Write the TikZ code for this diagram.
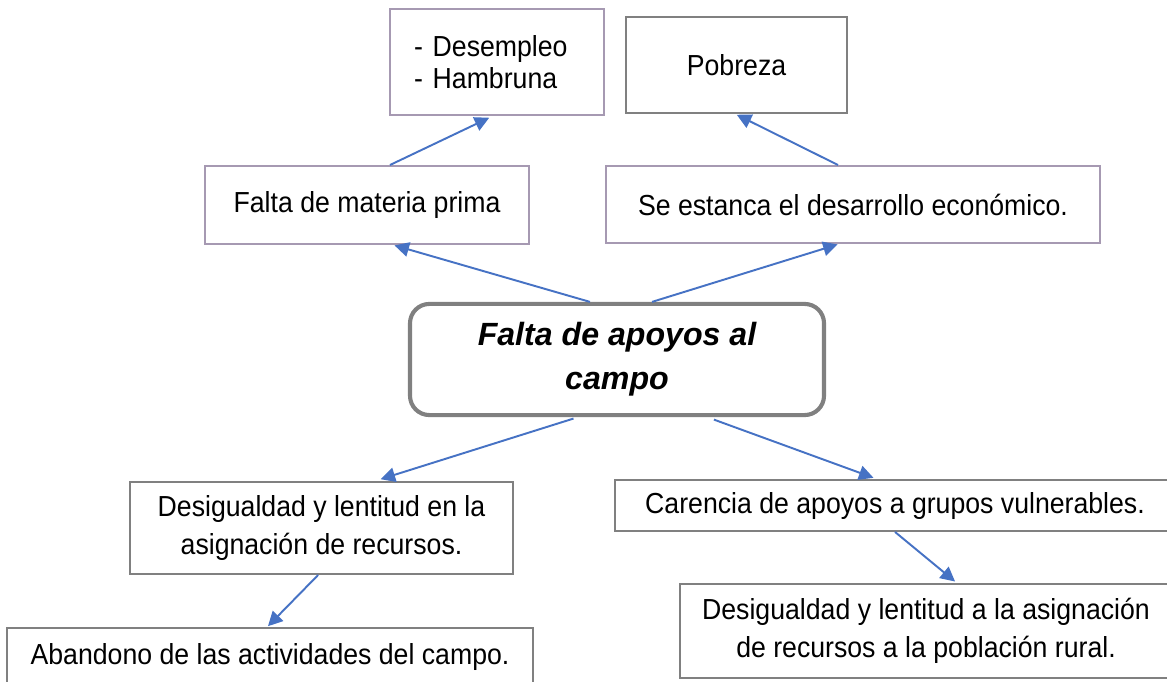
\documentclass[tikz,border=0pt]{standalone}
\usepackage{fontspec}
\setmainfont{Liberation Sans}
\newfontfamily\cajafont{Liberation Sans}[FakeStretch=0.92]
\usetikzlibrary{positioning}
\usetikzlibrary{arrows.meta}
\usetikzlibrary{calc}
\definecolor{boxlila}{RGB}{166,153,178}
\definecolor{boxgris}{RGB}{128,128,128}
\definecolor{flecha}{RGB}{70,114,196}
\tikzset{
	efecto/.style={draw=boxlila, rectangle, line width=0.8pt, inner sep=2pt, align=center, font=\cajafont\fontsize{12}{15.5}\selectfont},
	causa/.style={draw=boxgris, rectangle, line width=0.8pt, inner sep=2pt, align=center, font=\cajafont\fontsize{12}{15.5}\selectfont},
	% nodo central del problema
	problema/.style={draw=boxgris, rectangle, rounded corners=8pt, line width=1.7pt, align=center, font=\fontsize{13.3}{18.2}\selectfont\bfseries\itshape},
}
\begin{document}
\begin{tikzpicture}[x=0.414pt, y=-0.414pt]
				\useasboundingbox (0,0) rectangle (1167,681);
				
				\node (desemp) [efecto, align=left, text width=68.6pt, inner xsep=10pt, minimum width=88.6pt, minimum height=43.9pt, font=\cajafont\fontsize{12}{13.5}\selectfont] at (497,62) {- Desempleo\\- Hambruna};
				\node (pobreza) [causa, minimum width=91.5pt, minimum height=39.7pt] at (736.5,65) {Pobreza};
				
				\node (materia) [efecto, minimum width=134.1pt, minimum height=32.3pt] at (367,205) {Falta de materia prima};
				\node (estanca) [efecto, minimum width=204.5pt, minimum height=31.9pt] at (853,204.5) {Se estanca el desarrollo económico.};
				
				\node (centro) [problema, minimum width=171.4pt, minimum height=46pt] at (617,359.5) {Falta de apoyos al\\campo};
				
				\node (desig1) [causa, minimum width=158.6pt, minimum height=38.1pt] at (321.5,528) {Desigualdad y lentitud en la\\asignación de recursos.};
				\node (carencia) [causa, minimum width=231.8pt, minimum height=21.1pt] at (895,505.5) {Carencia de apoyos a grupos vulnerables.};
				
				\node (abandono) [causa, minimum width=217.8pt, minimum height=24pt] at (270,657) {Abandono de las actividades del campo.};
				\node (desig2) [causa, minimum width=203.7pt, minimum height=38.9pt] at (926,631) {Desigualdad y lentitud a la asignación\\de recursos a la población rural.};
				
				\begin{scope}[line width=0.8pt, flecha, ->, >={Triangle[length=6pt, width=6pt]}]
					\draw[shorten >=1.7pt] ([xshift=9.5pt]materia.north) -- ([xshift=-1.7pt]desemp.south);
					\draw[shorten >=0.8pt] ([xshift=-6.2pt]estanca.north) -- ([xshift=-0.6pt]pobreza.south);
					\draw[shorten >=0.6pt] ([xshift=-11.2pt]centro.north) -- ([xshift=10.8pt]materia.south);
					\draw[shorten >=0.6pt] ([xshift=14.5pt]centro.north) -- ([xshift=-5.8pt]estanca.south);
					\draw[shorten <=2pt, shorten >=2.5pt] ([xshift=-16.1pt]centro.south) -- ([xshift=22.1pt]desig1.north);
					\draw[shorten <=3pt, shorten >=1.5pt] ([xshift=37.3pt]centro.south) -- ([xshift=-7.5pt]carencia.north);
					\draw[shorten >=0.5pt] ([xshift=-1.4pt]desig1.south) -- ([xshift=-1.2pt]abandono.north);
					\draw[shorten >=1pt] (carencia.south) -- ([xshift=12.8pt]desig2.north);
				\end{scope}
				
			\end{tikzpicture}
\end{document}
